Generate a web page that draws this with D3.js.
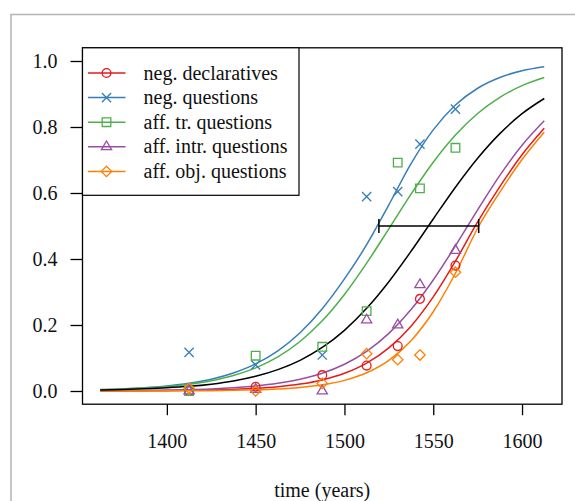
<!DOCTYPE html>
<html lang="en">
<head>
<meta charset="UTF-8">
<title>time (years)</title>
<script src="https://d3js.org/d3.v7.min.js"></script>
<style>
  body { margin: 0; background: #fff; }
  svg { display: block; }
  svg text { font-family: "Liberation Serif", "Times New Roman", Times, "DejaVu Serif", "Noto Serif", serif !important; }
</style>
</head>
<body>
<svg id="chart" width="575" height="501"></svg>
<script>
// observed proportions, one value per period midpoint
const years = [1412.5, 1450, 1487.5, 1512.5, 1530, 1542.5, 1562.5];
const negDecl = [0.0, 0.013, 0.048, 0.077, 0.136, 0.279, 0.38];
const negQ    = [0.117, 0.079, 0.109, 0.589, 0.604, 0.748, 0.854];
const affTr   = [0.0, 0.107, 0.134, 0.242, 0.692, 0.614, 0.737];
const affIntr = [0.0, 0.005, 0.0, 0.215, 0.2, 0.322, 0.426];
const affObj  = [0.008, 0.0, 0.023, 0.113, 0.095, 0.109, 0.36];

const curveYears = [1362.5, 1375, 1387.5, 1400, 1412.5, 1425, 1437.5, 1450, 1462.5, 1475,
  1487.5, 1500, 1512.5, 1525, 1537.5, 1550, 1562.5, 1575, 1587.5, 1600, 1612.5];
const fitNegDecl = [0.0003, 0.0004, 0.0007, 0.0011, 0.0019, 0.0030, 0.0049, 0.0080, 0.0130, 0.0209,
  0.0336, 0.0536, 0.0845, 0.1307, 0.1965, 0.2850, 0.3934, 0.5122, 0.6193, 0.7159, 0.7960];
const fitNegQ = [0.0042, 0.0064, 0.0099, 0.0153, 0.0235, 0.0359, 0.0546, 0.0820, 0.1216, 0.1765,
  0.2493, 0.3396, 0.4434, 0.5642, 0.6890, 0.7913, 0.8665, 0.9174, 0.9500, 0.9702, 0.9824];
const fitAffTr = [0.0038, 0.0059, 0.0089, 0.0136, 0.0207, 0.0313, 0.0470, 0.0702, 0.1035, 0.1501,
  0.2126, 0.2923, 0.3873, 0.4915, 0.5965, 0.6934, 0.7758, 0.8410, 0.8900, 0.9252, 0.9498];
const fitAffIntr = [0.0007, 0.0011, 0.0017, 0.0027, 0.0041, 0.0063, 0.0098, 0.0151, 0.0232, 0.0354,
  0.0538, 0.0810, 0.1201, 0.1745, 0.2467, 0.3365, 0.4399, 0.5488, 0.6533, 0.7448, 0.8189];
const fitAffObj = [0.0001, 0.0001, 0.0002, 0.0004, 0.0007, 0.0011, 0.0020, 0.0035, 0.0061, 0.0107,
  0.0186, 0.0322, 0.0552, 0.0930, 0.1526, 0.2401, 0.3568, 0.4932, 0.6026, 0.7014, 0.7844];
const fitAll = [0.0030, 0.0044, 0.0065, 0.0096, 0.0141, 0.0208, 0.0305, 0.0446, 0.0647, 0.0930,
  0.1319, 0.1839, 0.2505, 0.3312, 0.4234, 0.5213, 0.6175, 0.7053, 0.7800, 0.8403, 0.8864];

// spread of the 50% crossing years
const halfRange = [1519.4, 1575.6];

const xTicks = [1400, 1450, 1500, 1550, 1600];
const yTicks = [0, 0.2, 0.4, 0.6, 0.8, 1.0];

const series = [
  { name: "neg. declaratives", color: "#e41a1c", shape: "circle", obs: negDecl, fit: fitNegDecl },
  { name: "neg. questions", color: "#377eb8", shape: "times", obs: negQ, fit: fitNegQ },
  { name: "aff. tr. questions", color: "#4daf4a", shape: "square", obs: affTr, fit: fitAffTr },
  { name: "aff. intr. questions", color: "#984ea3", shape: "triangle", obs: affIntr, fit: fitAffIntr },
  { name: "aff. obj. questions", color: "#ff7f00", shape: "diamond", obs: affObj, fit: fitAffObj }
];

const serif = "'Liberation Serif', 'Times New Roman', Times, 'DejaVu Serif', serif";
const svg = d3.select("#chart").attr("font-family", serif);

const x = d3.scaleLinear().domain([1352.5, 1622.5]).range([82.5, 562]);
const y = d3.scaleLinear().domain([-0.04, 1.04]).range([404.2, 47.8]);

// light frame around the whole figure
svg.append("rect")
  .attr("x", 11).attr("y", 14.5)
  .attr("width", 700).attr("height", 700)
  .attr("fill", "none").attr("stroke", "#b4b4b4").attr("stroke-width", 1.5);

function shapePath(shape, cx, cy) {
  const p = d3.path();
  if (shape === "circle") {
    p.moveTo(cx + 4.4, cy);
    p.arc(cx, cy, 4.4, 0, 2 * Math.PI);
  } else if (shape === "times") {
    const a = 4.6;
    p.moveTo(cx - a, cy - a); p.lineTo(cx + a, cy + a);
    p.moveTo(cx - a, cy + a); p.lineTo(cx + a, cy - a);
  } else if (shape === "square") {
    const h = 4.3;
    p.rect(cx - h, cy - h, 2 * h, 2 * h);
  } else if (shape === "triangle") {
    p.moveTo(cx, cy - 5.8);
    p.lineTo(cx + 5.1, cy + 2.9);
    p.lineTo(cx - 5.1, cy + 2.9);
    p.closePath();
  } else if (shape === "diamond") {
    const r = 5.2;
    p.moveTo(cx, cy - r); p.lineTo(cx + r, cy); p.lineTo(cx, cy + r); p.lineTo(cx - r, cy);
    p.closePath();
  }
  return p.toString();
}

const line = d3.line()
  .x((d, i) => x(curveYears[i]))
  .y(d => y(d))
  .curve(d3.curveMonotoneX);

// fitted curves
svg.append("g")
  .selectAll("path")
  .data(series)
  .join("path")
  .attr("d", d => line(d.fit))
  .attr("fill", "none")
  .attr("stroke", d => d.color)
  .attr("stroke-width", 1.5);

svg.append("path")
  .attr("d", line(fitAll))
  .attr("fill", "none")
  .attr("stroke", "#000")
  .attr("stroke-width", 1.5);

// observed points
series.forEach(s => {
  svg.append("g")
    .selectAll("path")
    .data(s.obs)
    .join("path")
    .attr("d", (v, i) => shapePath(s.shape, x(years[i]), y(v)))
    .attr("fill", "none")
    .attr("stroke", s.color)
    .attr("stroke-width", 1.3);
});

// 50% crossing bar
const bar = svg.append("g").attr("stroke", "#000").attr("stroke-width", 1.5);
bar.append("line")
  .attr("x1", x(halfRange[0])).attr("x2", x(halfRange[1]))
  .attr("y1", y(0.5)).attr("y2", y(0.5));
bar.selectAll("line.cap")
  .data(halfRange)
  .join("line")
  .attr("class", "cap")
  .attr("x1", d => x(d)).attr("x2", d => x(d))
  .attr("y1", y(0.5) - 7).attr("y2", y(0.5) + 7);

// axes
const yAxis = svg.append("g")
  .attr("transform", `translate(${x.range()[0]},0)`)
  .call(d3.axisLeft(y).tickValues(yTicks).tickFormat(d3.format(".1f")).tickSize(12).tickPadding(13));
const xAxis = svg.append("g")
  .attr("transform", `translate(0,${y.range()[0]})`)
  .call(d3.axisBottom(x).tickValues(xTicks).tickFormat(d3.format("d")).tickSize(11).tickPadding(19));

[xAxis, yAxis].forEach(g => {
  g.attr("font-family", serif).attr("font-size", 20);
  g.select(".domain").remove();
  g.selectAll(".tick line").attr("stroke", "#000").attr("stroke-width", 1.3);
  g.selectAll(".tick text").attr("fill", "#111");
});

// plot box
svg.append("rect")
  .attr("x", x.range()[0]).attr("y", y.range()[1])
  .attr("width", x.range()[1] - x.range()[0])
  .attr("height", y.range()[0] - y.range()[1])
  .attr("fill", "none").attr("stroke", "#000").attr("stroke-width", 1.3);

svg.append("text")
  .attr("x", (x.range()[0] + x.range()[1]) / 2)
  .attr("y", 497)
  .attr("text-anchor", "middle")
  .attr("fill", "#111")
  .attr("font-size", 20)
  .text("time (years)");

// legend
const legend = svg.append("g");
legend.append("rect")
  .attr("x", 82.5).attr("y", 47.8)
  .attr("width", 216.5).attr("height", 147.5)
  .attr("fill", "#fff").attr("stroke", "#000").attr("stroke-width", 1.2);

const rows = legend.selectAll("g.row")
  .data(series)
  .join("g")
  .attr("class", "row")
  .attr("transform", (d, i) => `translate(0,${73 + i * 24.6})`);
rows.append("line")
  .attr("x1", 88).attr("x2", 125.5)
  .attr("stroke", d => d.color).attr("stroke-width", 1.5);
rows.append("path")
  .attr("d", d => shapePath(d.shape, 106.5, 0))
  .attr("fill", "none")
  .attr("stroke", d => d.color)
  .attr("stroke-width", 1.3);
rows.append("text")
  .attr("x", 143.5)
  .attr("dy", "0.33em")
  .attr("fill", "#111")
  .attr("font-size", 20)
  .text(d => d.name);
</script>
</body>
</html>
